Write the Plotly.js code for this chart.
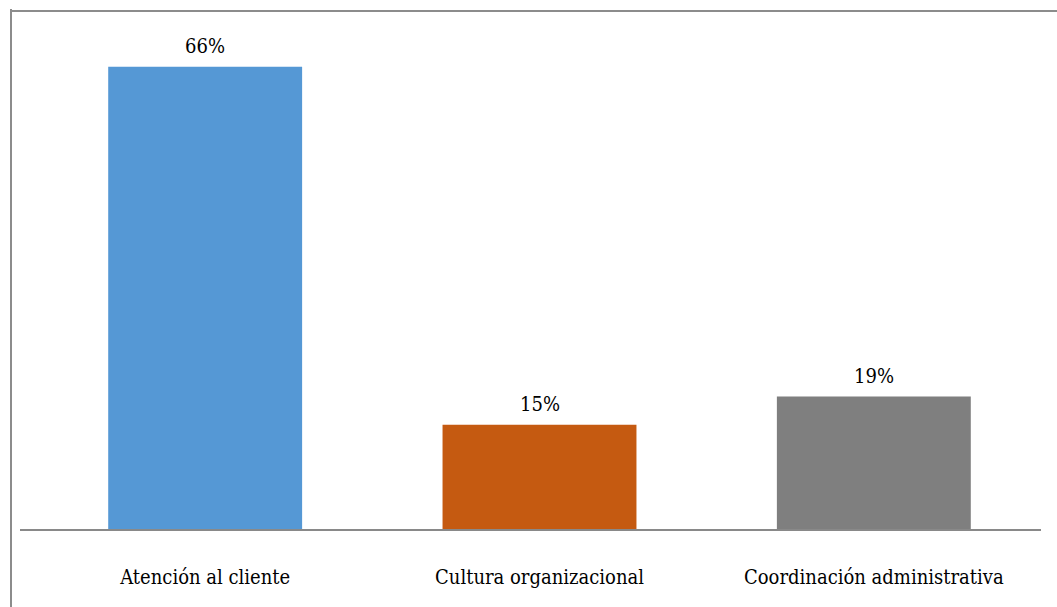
<!DOCTYPE html>
<html>
<head>
<meta charset="utf-8">
<script src="https://cdn.plot.ly/plotly-3.0.1.min.js"></script>
<style>html,body{margin:0;padding:0;background:#fff;}#chart{width:1057px;height:607px;}</style>
</head>
<body>
<div id="chart"></div>
<script>
const categories = ["Atención al cliente", "Cultura organizacional", "Coordinación administrativa"];
const values = [66, 15, 19];
const valueLabels = ["66%", "15%", "19%"];
const barColors = ["#5598d5", "#c55a11", "#7f7f7f"];

const W = 1057, H = 607, L = 38, R = 16, T = 40, B = 77;
const pw = W - L - R, ph = H - T - B;
const px = v => (v - L) / pw;
const py = v => (H - B - v) / ph;
const FONT = "DejaVu Serif Condensed, DejaVu Serif";

const trace = {
  type: "bar",
  x: categories,
  y: values,
  marker: {color: barColors, line: {width: 0}},
  width: 0.58,
  hoverinfo: "none"
};

const annotations = categories.map((c, i) => ({
  x: c, y: values[i], xref: "x", yref: "y",
  text: valueLabels[i], showarrow: false,
  yanchor: "bottom", yshift: 7,
  font: {family: FONT, size: 20, color: "#000"}
}));

const layout = {
  width: W, height: H,
  margin: {l: L, r: R, t: T, b: B, pad: 0},
  paper_bgcolor: "#fff", plot_bgcolor: "#fff",
  showlegend: false,
  font: {family: FONT},
  xaxis: {
    showline: false, showgrid: false, zeroline: false,
    ticks: "", ticklabelstandoff: 33,
    tickfont: {family: FONT, size: 20, color: "#000"}
  },
  yaxis: {range: [0, 69.8], visible: false, showgrid: false, zeroline: false},
  annotations: annotations,
  shapes: [
    {type: "line", xref: "paper", yref: "paper", x0: px(20), x1: px(1041), y0: 0, y1: 0, line: {color: "#898989", width: 2}},
    {type: "line", xref: "paper", yref: "paper", x0: px(11), x1: px(11), y0: py(9), y1: py(620), line: {color: "#8c8c8c", width: 2}},
    {type: "line", xref: "paper", yref: "paper", x0: px(10), x1: px(1070), y0: py(11), y1: py(11), line: {color: "#8c8c8c", width: 2}}
  ]
};

Plotly.newPlot("chart", [trace], layout, {displayModeBar: false, staticPlot: true});
</script>
</body>
</html>
